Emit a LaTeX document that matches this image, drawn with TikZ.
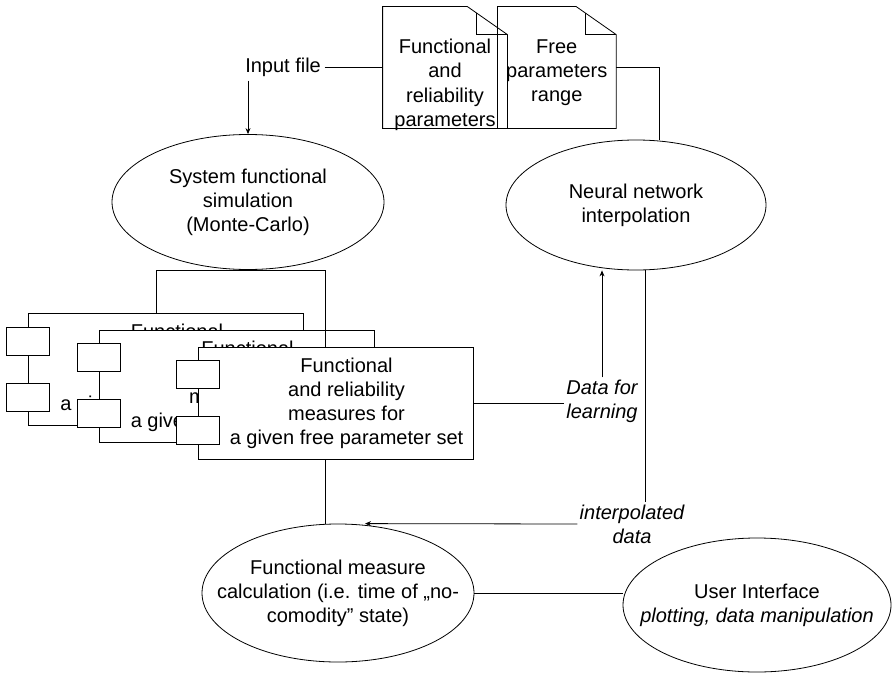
\documentclass[tikz,border=0pt]{standalone}
\usepackage{fontspec}
\setmainfont{Liberation Sans}
\usetikzlibrary{arrows.meta,positioning,shapes.geometric}

\begin{document}
\begin{tikzpicture}[x=1pt, y=-1pt, line width=0.8pt,
    every node/.style={font=\fontsize{20pt}{24pt}\selectfont},
    oval/.style={draw, ellipse, align=center, inner xsep=-30pt, inner ysep=0pt},
    docnode/.style={rectangle, minimum height=121pt, inner sep=0pt, align=center},
    compbox/.style={draw, fill=white, rectangle, minimum width=275pt, minimum height=112pt},
    comptext/.style={align=center, xshift=11pt},
    tab/.style={draw, fill=white, rectangle, minimum width=43pt, minimum height=28pt, inner sep=0pt},
    note/.style={font=\fontsize{20pt}{24pt}\selectfont\itshape, align=center, fill=white, inner sep=2pt},
    arrow/.style={-{Stealth[length=6pt, width=5pt]}}
]
\useasboundingbox (0,0) rectangle (893,674);

% Input documents
\node[docnode, minimum width=124pt, text height=119pt, text depth=2pt] (fpar) at (445,67.5) {Functional\\and\\reliability\\parameters};
\node[docnode, minimum width=118pt, text height=95pt, text depth=26pt, right=-10pt of fpar] (frange) {Free\\parameters\\range};
\node[left=58pt of fpar] (inp) {Input file};
\foreach \d in {fpar,frange} {
  \draw (\d.south west) -- (\d.north west) -- ([xshift=-40pt]\d.north east) -- ([yshift=-28pt]\d.north east) -- (\d.south east) -- cycle;
  \draw ([xshift=-31pt,yshift=-6pt]\d.north east) -- ([xshift=-31pt,yshift=-28pt]\d.north east) -- ([yshift=-28pt]\d.north east);
}

% Processing steps
\node[oval, minimum width=272pt, minimum height=135pt] (sfs) at (248,202) {System functional\\simulation\\(Monte-Carlo)};
\node[oval, minimum width=260pt, minimum height=130pt] (nn) at (636,205) {Neural network\\interpolation};
\node[oval, minimum width=272pt, minimum height=138pt] (fmc) at (338,593) {Functional measure\\calculation (i.e. time of „no-\\comodity” state)};
\node[oval, minimum width=268pt, minimum height=134pt] (ui) at (757,605) {User Interface\\\textit{plotting, data manipulation}};

% Result sets, one per free parameter set
\node[compbox, label={[comptext]center:Functional\\and reliability\\measures for\\a given free parameter set}] (back) at (166,369.5) {};
\node[compbox, label={[comptext]center:Functional\\and reliability\\measures for\\a given free parameter set}] (mid) at (236.5,386) {};
\foreach \c in {back,mid}
  \foreach \dy in {28,84}
    \node[tab] (\c-\dy) at ([yshift=-\dy pt]\c.north west) {};

\draw ([xshift=-10pt]back.north) |- (sfs.south) -| ([xshift=-13pt]fmc.north);

\node[compbox, label={[comptext]center:Functional\\and reliability\\measures for\\a given free parameter set}] (front) at (335.5,403) {};
\foreach \dy in {28,84}
  \node[tab] (front-\dy) at ([yshift=-\dy pt]front.north west) {};

% Labels
\node[note] (dfl) at (602,401) {Data for\\learning};
\node[note] (ipd) at (632,524) {interpolated\\data};

% Arrows
\draw[arrow] (inp.south -| sfs.north) -- (sfs.north);
\draw (inp) -- (fpar);
\draw (frange.east) -| ([xshift=23pt]nn.north);
\draw (front.east) -- (front.east -| dfl.west);
\draw[arrow] (dfl.north) -- (dfl.north |- nn.south);
\draw ([xshift=9pt]nn.south) -- ([xshift=9pt]nn.south |- ipd.north);
\draw[arrow] (ipd.west) -- ([xshift=27pt]fmc.north);
\draw (fmc.east) -- (fmc.east -| ui.west);

\end{tikzpicture}
\end{document}
